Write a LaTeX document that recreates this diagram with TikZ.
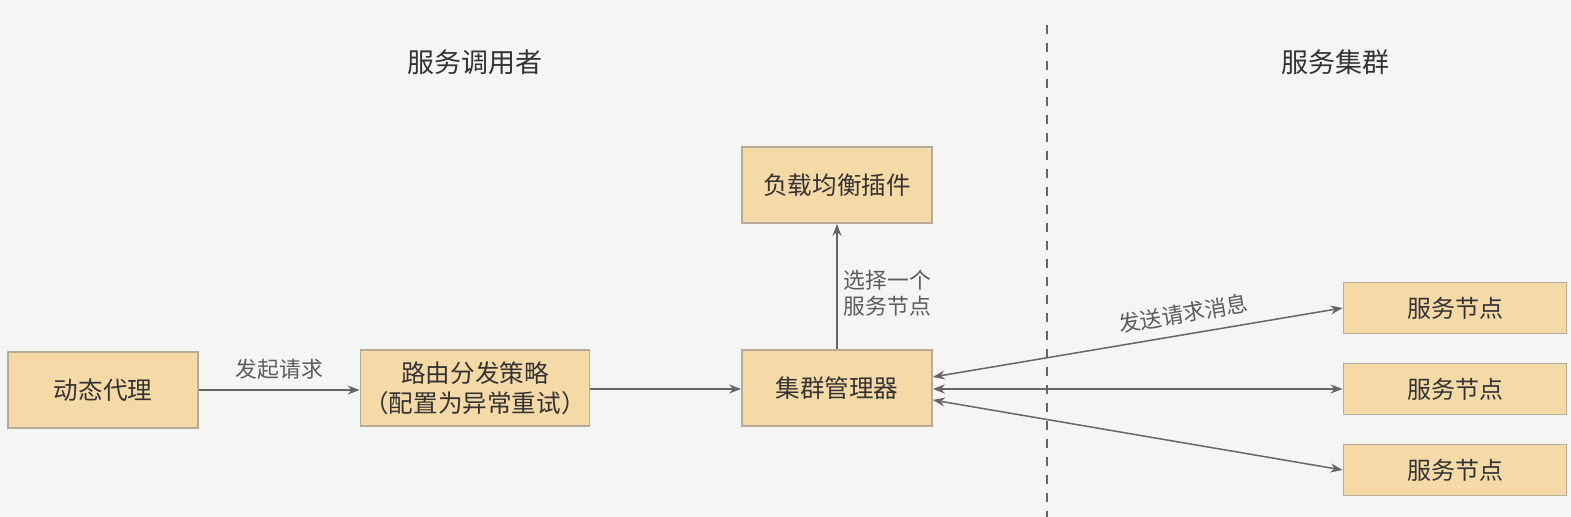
\documentclass[tikz,border=0pt]{standalone}
\usepackage{fontspec}
\setmainfont{Noto Sans CJK SC}
\usetikzlibrary{arrows.meta}
\definecolor{boxfill}{HTML}{F5DAA8}
\definecolor{boxline}{HTML}{B5AB99}
\definecolor{bgcol}{HTML}{F5F5F3}
\definecolor{linecol}{HTML}{666666}
\definecolor{txtcol}{HTML}{333333}

\begin{document}
\begin{tikzpicture}[x=0.5pt, y=-0.5pt, >={Stealth[length=6pt,width=4.5pt]},
  blk/.style={draw=boxline, line width=0.9pt, fill=boxfill, text=txtcol, font=\fontsize{12.3pt}{15pt}\selectfont,
    minimum width=95pt, minimum height=38pt, inner sep=0pt, align=center},
  snode/.style={blk, minimum width=111.5pt, minimum height=25.5pt, font=\fontsize{12pt}{14pt}\selectfont},
  conn/.style={draw=linecol, line width=0.75pt},
  lbl/.style={text=linecol!90!black, font=\fontsize{10.9pt}{13pt}\selectfont, inner sep=1pt}]
  \fill[bgcol] (0,0) rectangle (1571,517);
  \useasboundingbox (0,0) rectangle (1571,517);
  \node[text=txtcol, font=\fontsize{13.5pt}{16pt}\selectfont] (caller) at (475,62) {服务调用者};
  \node[text=txtcol, font=\fontsize{13.5pt}{16pt}\selectfont] (cluster) at (1335,62) {服务集群};
  \coordinate (divtop) at (1047,25);
  \coordinate (divbot) at (1047,517);
  \draw[linecol, line width=0.9pt, dash pattern=on 4.5pt off 4.5pt] (divtop) -- (divbot);

  \node[blk] (proxy) at (103,390) {动态代理};
  \node[blk, minimum width=114.5pt] (route) at (475,388) {路由分发策略\\（配置为异常重试）};
  \node[blk] (mgr) at (837,388) {集群管理器};
  \node[blk] (lb) at (837,185) {负载均衡插件};
  \node[snode] (sn1) at (1455,308) {服务节点};
  \node[snode] (sn2) at (1455,389) {服务节点};
  \node[snode] (sn3) at (1455,470) {服务节点};

  \draw[conn, ->] (proxy.east |- 0,390) -- node[lbl, above=4pt] {发起请求} (route.west |- 0,390);
  \draw[conn, ->] (route.east |- 0,389) -- (mgr.west |- 0,389);
  \draw[conn, ->] (mgr.north) -- node[lbl, right=2pt, align=left, pos=0.45] {选择一个\\服务节点} (lb.south);
  \draw[conn, <->] ([yshift=5.5pt]mgr.east) -- node[lbl, sloped, above=4pt, pos=0.62] {发送请求消息} (sn1.west);
  \draw[conn, <->] (mgr.east |- sn2.west) -- (sn2.west);
  \draw[conn, <->] ([yshift=-6pt]mgr.east) -- (sn3.west);
\end{tikzpicture}
\end{document}
